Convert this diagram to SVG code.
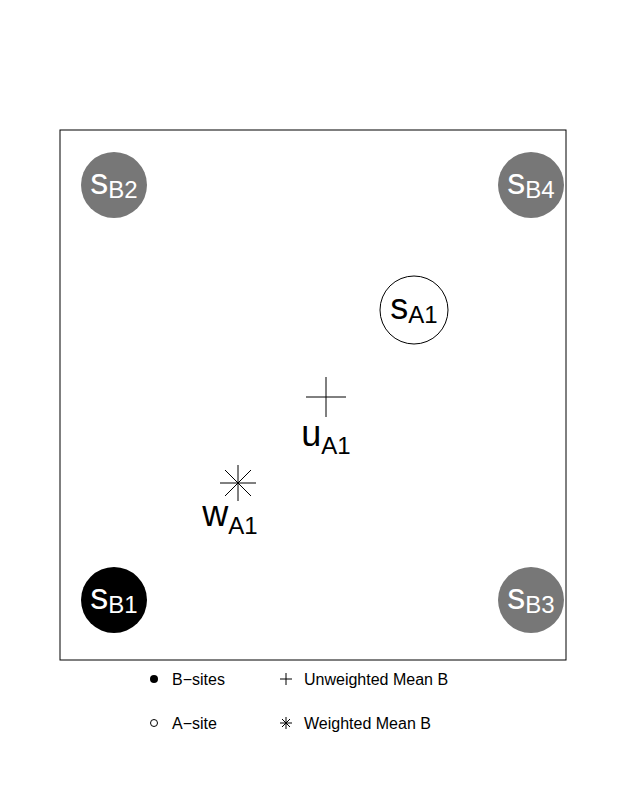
<svg xmlns="http://www.w3.org/2000/svg" width="623" height="806" viewBox="0 0 623 806">
<style>
text{font-family:"Liberation Sans",Arial,sans-serif}
.b{fill:#777}
.lb{fill:#fff;font-size:36px;text-anchor:middle}
.sub{font-size:24px}
.lg{font-size:16px;fill:#000}
.m{stroke:#000;stroke-width:1;fill:none}
</style>
<rect width="623" height="806" fill="#fff"/>
<rect x="60" y="130" width="506" height="530" fill="none" stroke="#000" stroke-width="1"/>
<g id="sB2"><circle cx="114" cy="185" r="33" class="b"/><text x="114" y="194" class="lb">s<tspan class="sub" dy="4">B2</tspan></text></g>
<g id="sB4"><circle cx="531" cy="185" r="33" class="b"/><text x="531" y="194" class="lb">s<tspan class="sub" dy="4">B4</tspan></text></g>
<g id="sB1"><circle cx="114" cy="600" r="33" fill="#000"/><text x="114" y="609" class="lb">s<tspan class="sub" dy="4">B1</tspan></text></g>
<g id="sB3"><circle cx="531" cy="600" r="33" class="b"/><text x="531" y="609" class="lb">s<tspan class="sub" dy="4">B3</tspan></text></g>
<g id="sA1"><circle cx="414" cy="310" r="34" fill="#fff" stroke="#000"/><text x="414" y="319" class="lb" style="fill:#000">s<tspan class="sub" dy="4">A1</tspan></text></g>
<g id="uA1"><path class="m" d="M306 397H346M326 377V417"/><text x="326" y="446" class="lb" style="fill:#000">u<tspan class="sub" dy="8">A1</tspan></text></g>
<g id="wA1"><path class="m" d="M220 483H256M238 465V501M225 470L251 496M225 496L251 470"/><text x="230" y="526" class="lb" style="fill:#000">w<tspan class="sub" dy="8">A1</tspan></text></g>
<g id="legend">
<circle cx="154" cy="679" r="4" fill="#000"/><text x="172" y="685" class="lg">B−sites</text>
<circle cx="154" cy="723" r="3.5" fill="none" stroke="#000"/><text x="172" y="729" class="lg">A−site</text>
<path class="m" d="M280 679H292M286 673V685"/><text x="304" y="685" class="lg">Unweighted Mean B</text>
<path class="m" d="M280 723H292M286 717V729M282 719L290 727M282 727L290 719"/><text x="304" y="729" class="lg">Weighted Mean B</text>
</g>
<g id="connectors"/>
</svg>
